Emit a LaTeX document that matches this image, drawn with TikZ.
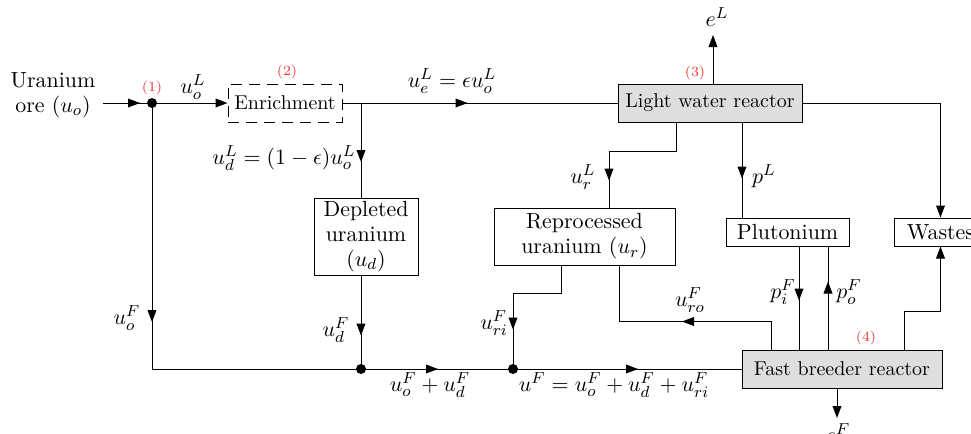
\documentclass[tikz,border=0pt]{standalone}
\usetikzlibrary{arrows.meta,decorations.markings}
\definecolor{boxgray}{RGB}{222,222,222}
\definecolor{tagred}{RGB}{240,50,50}
\begin{document}
\begin{tikzpicture}[x=0.5pt,y=-0.5pt,
  >={Triangle[length=6pt,width=4.4pt]},
  txt/.style={font=\fontsize{10.95}{12.5}\selectfont},
  box/.style={draw, line width=0.5pt, align=center, inner sep=0pt, txt},
  grybox/.style={box, fill=boxgray, font=\fontsize{10}{12}\selectfont},
  lbl/.style={txt, inner sep=1pt},
  tag/.style={text=tagred, font=\fontsize{7}{8}\selectfont, inner sep=0pt},
  flow/.style={draw, line width=0.5pt},
  midarr/.style={postaction={decorate, decoration={markings,
      mark=at position #1 with {\arrow{Triangle[length=6pt,width=4.4pt]}}}}},
  dot/.style={circle, fill, inner sep=0pt, minimum size=5pt}]
\path[use as bounding box] (0,0) rectangle (971,434);

% boxes
\node[box, dashed, dash pattern=on 5.5pt off 3.5pt, minimum width=57pt, minimum height=19pt,
      font=\fontsize{10}{12}\selectfont] (enr) at (285,103) {Enrichment};
\node[grybox, minimum width=92pt, minimum height=19pt] (lwr) at (710,103) {Light water reactor};
\node[box, minimum width=52pt, minimum height=38.5pt] (dep) at (366,236.5) {Depleted\\uranium\\$(u_d)$};
\node[box, minimum width=90.5pt, minimum height=28.5pt] (rep) at (584.5,236.5) {Reprocessed\\uranium $(u_r)$};
\node[box, minimum width=61.5pt, minimum height=14pt] (plu) at (787.5,232) {Plutonium};
\node[box, minimum width=46pt, minimum height=14pt] (was) at (940.5,232) {Wastes};
\node[grybox, minimum width=100pt, minimum height=19pt] (fbr) at (842,369) {Fast breeder reactor};

% source text and junctions
\node[lbl, align=center] (ore) at (53,95) {Uranium\\ore $(u_o)$};
\coordinate (oreout) at (103,103);
\node[dot] (j1) at (152,103) {};
\node[dot] (j2) at (361,369) {};
\node[dot] (j3) at (513,369) {};
\coordinate (b1) at (361,103);
\coordinate (eLtip) at (713,35);
\coordinate (eFtip) at (837,418);

% x positions of connector stubs
\coordinate (xa) at (561,0);
\coordinate (xb) at (771,0);
\coordinate (xc) at (619,0);
\coordinate (xd) at (676,0);
\coordinate (xe) at (609,0);
\coordinate (xf) at (742,0);
\coordinate (xg) at (799,0);
\coordinate (xh) at (828,0);
\coordinate (xi) at (904,0);
\coordinate (xj) at (713,0);
\coordinate (xk) at (837,0);

% connectors
\draw[flow, midarr=18.5pt] (oreout) -- (j1.center);
\draw[flow, ->] (j1.center) -- (enr.west);
\draw[flow, midarr=62.5pt] (enr.east) -- (lwr.west);
\draw[flow, midarr=29.5pt] (b1) -- (b1 |- dep.north);
\draw[flow, midarr=30pt] (dep.south -| j2) -- (j2.center);
\draw[flow, midarr=109.5pt] (j1.center) |- (j2.center);
\draw[flow, midarr=38.5pt] (j2.center) -- (j3.center);
\draw[flow, midarr=62.5pt] (j3.center) -- (fbr.west);
\draw[flow, midarr=56pt] (rep.south -| xa) -- ++(0,28) -| (j3.center);
\draw[flow, midarr=58.5pt] (fbr.north -| xb) -- ++(0,-28) -| (rep.south -| xc);
\draw[flow, midarr=62.5pt] (lwr.south -| xd) -- ++(0,29) -| (rep.north -| xe);
\draw[flow, midarr=28pt] (lwr.south -| xf) -- (plu.north -| xf);
\draw[flow, ->] (lwr.east) -| (was.north);
\draw[flow, midarr=27pt] (plu.south -| xg) -- (fbr.north -| xg);
\draw[flow, midarr=34pt] (fbr.north -| xh) -- (plu.south -| xh);
\draw[flow, ->] (fbr.north -| xi) -- ++(0,-38) -| (was.south);
\draw[flow, ->] (lwr.north -| xj) -- (eLtip);
\draw[flow, ->] (fbr.south -| xk) -- (eFtip);

% tags
\node[tag] (t1) at (152,88) {(1)};
\node[tag] (t2) at (287,72) {(2)};
\node[tag] (t3) at (695,73) {(3)};
\node[tag] (t4) at (866,338) {(4)};

% labels
\node[lbl] (l1) at (193,87) {$u_o^L$};
\node[lbl] (l2) at (452,81) {$u_e^L=\epsilon u_o^L$};
\node[lbl] (l3) at (717,17) {$e^L$};
\node[lbl] (l4) at (284,158) {$u_d^L=(1-\epsilon)u_o^L$};
\node[lbl] (l5) at (583,177) {$u_r^L$};
\node[lbl] (l6) at (764,176) {$p^L$};
\node[lbl] (l7) at (127,318) {$u_o^F$};
\node[lbl] (l8) at (336,330) {$u_d^F$};
\node[lbl] (l9) at (494,323) {$u_{ri}^F$};
\node[lbl] (l10) at (690,300) {$u_{ro}^F$};
\node[lbl] (l11) at (783,292) {$p_i^F$};
\node[lbl] (l12) at (849,292) {$p_o^F$};
\node[lbl] (l13) at (430,385) {$u_o^F+u_d^F$};
\node[lbl] (l14) at (614,385) {$u^F=u_o^F+u_d^F+u_{ri}^F$};
\node[lbl] (l15) at (838,433) {$e^F$};
\end{tikzpicture}
\end{document}
